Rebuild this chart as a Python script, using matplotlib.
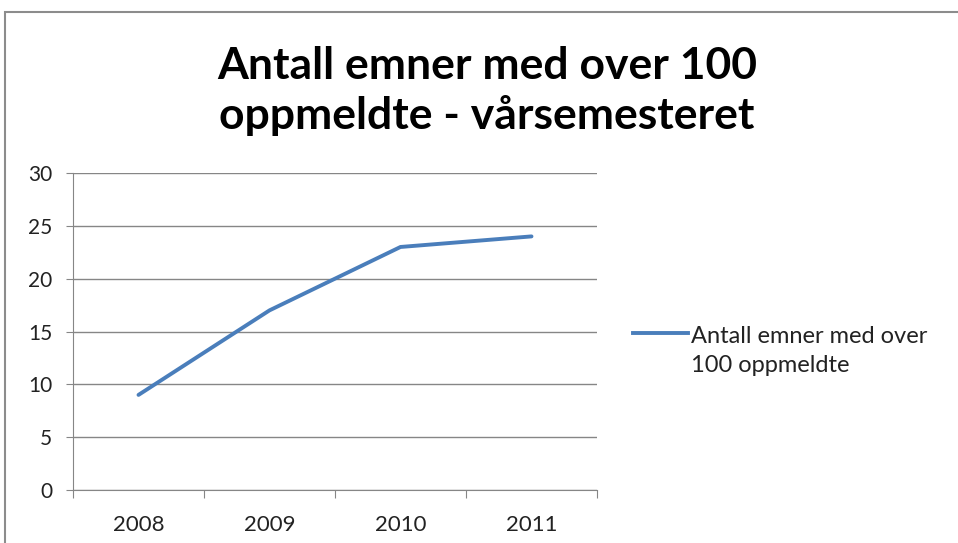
import matplotlib
matplotlib.use("Agg")
import matplotlib.pyplot as plt
from matplotlib.patches import Rectangle
from matplotlib.lines import Line2D

years = ["2008", "2009", "2010", "2011"]
values = [9, 17, 23, 24]
series_name = "Antall emner med over\n100 oppmeldte"
title = "Antall emner med over 100\noppmeldte - vårsemesteret"
yticks = [0, 5, 10, 15, 20, 25, 30]

plt.rcParams['font.family'] = ['Lato', 'DejaVu Sans']

W, H = 958, 543
fig = plt.figure(figsize=(W / 100, H / 100), dpi=100)
fig.patch.set_facecolor("white")

# outer chart border (cropped at right/bottom)
fig.add_artist(Rectangle((5 / W, -0.05), 1.2, 1 - 12 / H + 0.05, transform=fig.transFigure,
                         fill=False, edgecolor="#8c8c8c", linewidth=1.5))

ax = fig.add_axes([73 / W, 1 - 490 / H, (597 - 73) / W, (490 - 173) / H])
x = [i + 0.5 for i in range(len(years))]
ax.plot(x, values, color="#4a7ebb", linewidth=2.8, solid_capstyle="round")
ax.set_xlim(0, len(years))
ax.set_ylim(0, 30)
ax.set_yticks(yticks)
ax.set_yticklabels([str(v) for v in yticks], fontsize=15, color="#222222")
ax.set_xticks(range(len(years) + 1))
ax.set_xticklabels([])
ax.set_xticks(x, minor=True)
ax.set_xticklabels(years, minor=True, fontsize=16, color="#222222")
ax.tick_params(axis="x", which="minor", length=0, pad=18)
ax.tick_params(axis="x", which="major", length=6, color="#868686", direction="out")
ax.tick_params(axis="y", length=5, color="#868686", direction="out", pad=10)
ax.grid(axis="y", color="#868686", linewidth=1)
ax.set_axisbelow(True)
for s in ["top", "right"]:
    ax.spines[s].set_visible(False)
ax.spines["left"].set_color("#868686")
ax.spines["bottom"].set_color("#868686")

fig.text(487 / W, 1 - 91 / H, title, ha="center", va="center", fontsize=32,
         fontweight="bold", linespacing=1.28, color="black")

# legend
fig.add_artist(Line2D([633 / W, 688 / W], [1 - 333 / H, 1 - 333 / H], transform=fig.transFigure,
                      color="#4a7ebb", linewidth=2.8))
fig.text(691 / W, 1 - 351 / H, series_name, ha="left", va="center", fontsize=17,
         linespacing=1.45, color="#222222")

fig.savefig("out.png", dpi=100)
